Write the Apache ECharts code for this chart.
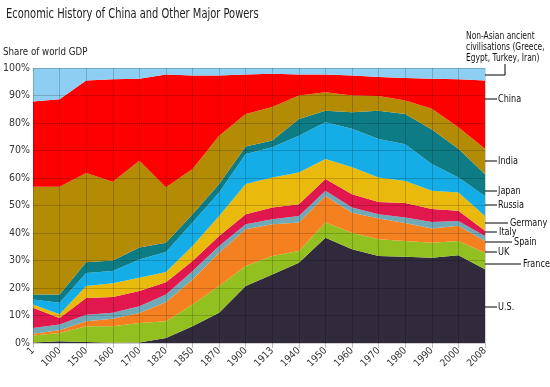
<!DOCTYPE html>
<html><head><meta charset="utf-8">
<script src="https://cdn.jsdelivr.net/npm/echarts@6/dist/echarts.min.js"></script>
<style>html,body{margin:0;padding:0;background:#fff}#c{width:550px;height:387px}</style>
</head><body><div id="c"></div>
<script>
const years = ['1','1000','1500','1600','1700','1820','1850','1870','1900','1913','1940','1950','1960','1970','1980','1990','2000','2008'];
const us      = [0.2,0.6,0.4,0.1,0.2,1.8,6.1,11.0,20.7,24.9,29.2,38.3,34.1,31.6,31.4,31.0,31.9,26.8];
const france  = [2.5,3.0,5.7,6.0,7.1,6.1,7.9,9.7,7.3,6.7,4.3,5.5,6.0,6.1,5.7,5.5,5.2,6.0];
const uk      = [0.7,1.0,1.8,2.7,3.6,6.9,9.1,12.1,13.4,11.6,10.3,9.7,7.3,7.6,6.5,5.1,5.5,4.3];
const spain   = [2.1,2.1,2.4,2.2,2.5,2.8,3.1,2.5,1.8,1.8,2.4,1.9,1.9,1.5,2.0,2.4,1.8,1.8];
const italy   = [7.3,2.4,6.1,5.7,5.5,4.5,3.6,3.6,3.6,4.3,4.3,4.2,4.8,4.5,5.3,4.7,3.7,1.9];
const germany = [1.2,1.4,4.3,5.0,4.8,3.7,5.5,7.3,11.0,10.9,11.5,7.3,9.8,8.9,8.0,6.7,6.6,5.4];
const russia  = [1.8,4.1,4.8,4.5,6.7,7.3,8.5,8.5,10.9,11.0,13.4,13.4,14.0,14.0,13.4,9.7,5.5,7.3];
const japan   = [1.8,3.0,3.9,3.8,4.3,3.4,3.0,3.1,2.8,2.4,6.1,4.2,6.0,10.3,11.0,12.5,10.4,7.9];
const india   = [39.2,39.2,32.4,28.6,31.6,20.1,16.5,17.6,11.8,12.2,8.5,6.7,6.1,5.3,4.9,7.6,7.9,9.2];
const china   = [31.0,31.8,33.7,37.3,29.8,41.0,34.0,21.9,14.3,12.1,7.6,6.4,7.3,6.9,8.2,10.9,17.4,24.9];
const ancient = [12.2,11.4,4.5,4.1,3.9,2.4,2.7,2.7,2.4,2.1,2.4,2.4,2.7,3.3,3.6,3.9,4.1,4.5];

const seriesDefs = [
  ['U.S.', us, '#302a3c'],
  ['France', france, '#92c020'],
  ['UK', uk, '#f5801f'],
  ['Spain', spain, '#6eaab8'],
  ['Italy', italy, '#e0184e'],
  ['Germany', germany, '#e9b90c'],
  ['Russia', russia, '#15ade8'],
  ['Japan', japan, '#0d7c85'],
  ['India', india, '#b38b05'],
  ['China', china, '#fe0000'],
  ['Non-Asian ancient civilisations', ancient, '#8dcef2']
];

const FONT = "'Liberation Sans Narrow','DejaVu Sans Condensed',sans-serif";
const chart = echarts.init(document.getElementById('c'), null, {renderer:'canvas'});

function lbl(x, y, text, lx1, lx2) {
  return [
    {type:'line', shape:{x1:lx1, y1:y, x2:lx2, y2:y}, style:{stroke:'#000', lineWidth:1}, z:10},
    {type:'text', x:x, y:y, scaleX:0.82, style:{text:text, fill:'#111', font:'11px '+FONT, textVerticalAlign:'middle'}, z:10}
  ];
}

const graphics = [
  {type:'text', x:6, y:14, scaleX:0.76, style:{text:'Economic History of China and Other Major Powers', fill:'#222', font:'14.5px '+FONT, textVerticalAlign:'middle'}},
  {type:'text', x:3, y:52, scaleX:0.88, style:{text:'Share of world GDP', fill:'#222', font:'11px '+FONT, textVerticalAlign:'middle'}},
  {type:'text', x:466, y:31, scaleX:0.84, style:{text:'Non-Asian ancient\ncivilisations (Greece,\nEgypt, Turkey, Iran)', fill:'#111', font:'10px '+FONT, lineHeight:11}},
  {type:'polyline', shape:{points:[[485,75],[505,75],[505,64]]}, style:{stroke:'#000', fill:null, lineWidth:1}, z:10}
].concat(
  lbl(498, 99, 'China', 485, 497),
  lbl(498, 161, 'India', 485, 497),
  lbl(498, 191, 'Japan', 485, 497),
  lbl(498, 205, 'Russia', 485, 497),
  lbl(510, 223, 'Germany', 485, 508),
  lbl(499, 232, 'Italy', 485, 497),
  lbl(514, 242, 'Spain', 485, 512),
  lbl(498, 252, 'UK', 485, 497),
  lbl(523, 264, 'France', 485, 521),
  lbl(498, 307, 'U.S.', 485, 497)
);

chart.setOption({
  animation:false,
  backgroundColor:'#fff',
  grid:{left:32, right:65, top:68, bottom:44, containLabel:false},
  xAxis:{type:'category', data:years, boundaryGap:false, z:5,
    axisLine:{show:false},
    axisTick:{show:true, length:5, lineStyle:{color:'rgba(0,0,0,0.25)'}},
    splitLine:{show:true, lineStyle:{color:'rgba(0,0,0,0.18)', width:1}},
    axisLabel:{rotate:45, fontFamily:FONT, fontSize:10, color:'#333', margin:6, interval:0}},
  yAxis:{type:'value', min:0, max:100, interval:10, z:5,
    axisLine:{show:false}, axisTick:{show:false},
    splitLine:{show:true, lineStyle:{color:'rgba(0,0,0,0.18)', width:1}},
    axisLabel:{formatter:'{value}%', fontFamily:FONT, fontSize:10.5, color:'#333', margin:3}},
  series: seriesDefs.map(([name, data, color]) => ({
    name, type:'line', stack:'total', data, symbol:'none', smooth:false,
    lineStyle:{width:0}, areaStyle:{color, opacity:1}, itemStyle:{color}, z:2
  })),
  graphic: graphics
});
</script></body></html>
